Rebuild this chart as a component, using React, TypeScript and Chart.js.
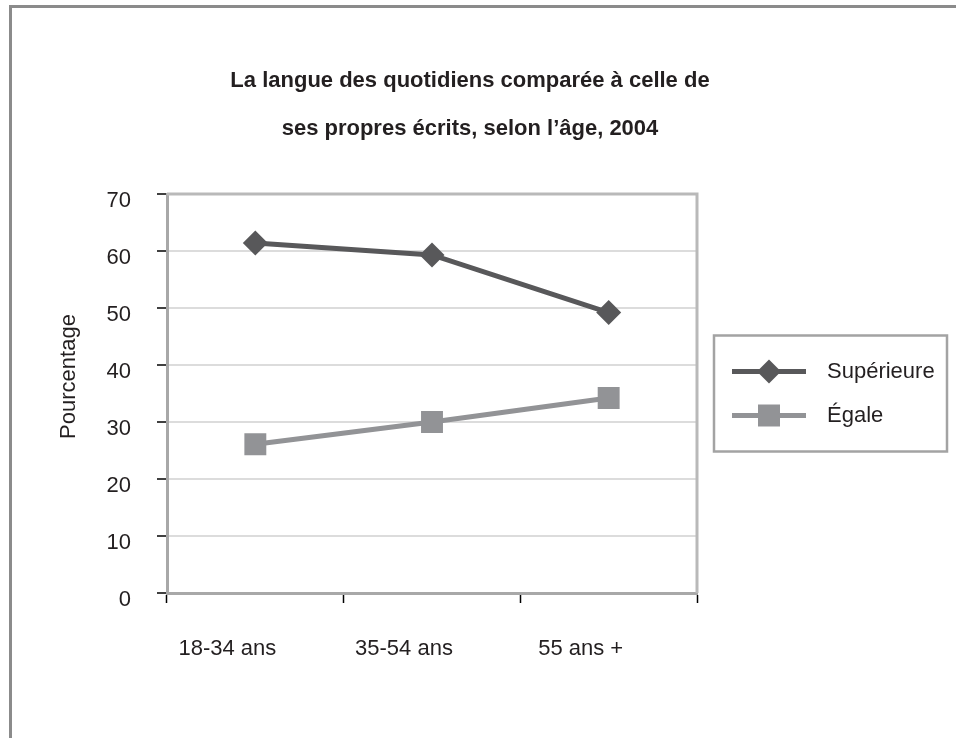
import React, { useEffect, useRef } from 'react';
import { Chart, registerables } from 'chart.js';

Chart.register(...registerables);

// ---- data ----
const TITLE_LINES = ['La langue des quotidiens comparée à celle de', 'ses propres écrits, selon l’âge, 2004'];
const CATEGORIES = ['18-34 ans', '35-54 ans', '55 ans +'];
const SERIES_LABELS = ['Supérieure', 'Égale'];
const SUPERIEURE = [61.4, 59.3, 49.2];
const EGALE = [26.1, 30.0, 34.2];
const Y_MIN = 0;
const Y_MAX = 70;
const Y_STEP = 10;
const Y_TITLE = 'Pourcentage';

export default function App() {
  const ref = useRef<HTMLCanvasElement | null>(null);

  useEffect(() => {
    if (!ref.current) return;
    const FAMILY = '"Liberation Sans", Arial, sans-serif';
    const SZ = 22;
    const TSZ = 22;
    const TEXT = '#231f20';
    const C1 = '#58585a';
    const C2 = '#929396';

    const framePlugin = {
      id: 'frameAndLegend',
      afterDraw(chart: any) {
        const ctx = chart.ctx;
        const ca = chart.chartArea;
        ctx.save();
        // top & right plot frame
        ctx.strokeStyle = '#b9b9b9';
        ctx.lineWidth = 3;
        ctx.beginPath();
        ctx.moveTo(ca.left, ca.top);
        ctx.lineTo(ca.right, ca.top);
        ctx.lineTo(ca.right, ca.bottom);
        ctx.stroke();

        // y axis title
        ctx.save();
        ctx.translate(69, (ca.top + ca.bottom) / 2 - 17);
        ctx.rotate(-Math.PI / 2);
        ctx.fillStyle = TEXT;
        ctx.font = `${SZ}px ${FAMILY}`;
        ctx.textAlign = 'center';
        ctx.textBaseline = 'middle';
        ctx.fillText(Y_TITLE, 0, 0);
        ctx.restore();

        // legend
        const boxL = ca.right + 17;
        const boxR = chart.width - 9;
        const cy = (ca.top + ca.bottom) / 2;
        const boxT = cy - 58;
        const boxB = cy + 58;
        ctx.strokeStyle = '#a3a3a3';
        ctx.lineWidth = 2.5;
        ctx.strokeRect(boxL, boxT, boxR - boxL, boxB - boxT);
        chart.data.datasets.forEach((ds: any, i: number) => {
          const y = cy - 22 + i * 44;
          ctx.strokeStyle = ds.borderColor;
          ctx.lineWidth = ds.borderWidth;
          ctx.beginPath();
          ctx.moveTo(boxL + 18, y);
          ctx.lineTo(boxL + 92, y);
          ctx.stroke();
          const mx = boxL + 55;
          ctx.fillStyle = ds.pointBackgroundColor;
          ctx.beginPath();
          if (ds.pointStyle === 'rectRot') {
            const r = 12;
            ctx.moveTo(mx - r, y);
            ctx.lineTo(mx, y - r);
            ctx.lineTo(mx + r, y);
            ctx.lineTo(mx, y + r);
            ctx.closePath();
          } else {
            const h = 11;
            ctx.rect(mx - h, y - h, 2 * h, 2 * h);
          }
          ctx.fill();
          ctx.fillStyle = TEXT;
          ctx.font = `${SZ}px ${FAMILY}`;
          ctx.textAlign = 'left';
          ctx.textBaseline = 'middle';
          ctx.fillText(ds.label, boxL + 113, y);
        });
        ctx.restore();
      },
    };

    const chart = new Chart(ref.current, {
      type: 'line',
      data: {
        labels: CATEGORIES,
        datasets: [
          {
            label: SERIES_LABELS[0],
            data: SUPERIEURE,
            borderColor: C1,
            backgroundColor: C1,
            borderWidth: 5,
            pointStyle: 'rectRot',
            pointRadius: 12.5,
            pointHoverRadius: 12.5,
            pointBackgroundColor: C1,
            pointBorderWidth: 0,
            tension: 0,
          },
          {
            label: SERIES_LABELS[1],
            data: EGALE,
            borderColor: C2,
            backgroundColor: C2,
            borderWidth: 5,
            pointStyle: 'rect',
            pointRadius: 15.5,
            pointHoverRadius: 15.5,
            pointBackgroundColor: C2,
            pointBorderWidth: 0,
            tension: 0,
          },
        ],
      },
      options: {
        responsive: false,
        animation: false,
        layout: { padding: { left: 0, right: 16, top: 0, bottom: 0 } },
        plugins: {
          legend: { display: false },
          tooltip: { enabled: false },
          title: {
            display: true,
            text: TITLE_LINES,
            color: TEXT,
            font: { family: FAMILY, size: TSZ, weight: 'bold', lineHeight: 48 / TSZ },
            padding: { top: 57, bottom: 41 },
          },
        },
        scales: {
          x: {
            type: 'category',
            offset: true,
            grid: {
              offset: true,
              drawOnChartArea: false,
              tickColor: '#000',
              tickLength: 10,
              tickWidth: 1.5,
            },
            border: { color: '#a8a8a8', width: 3 },
            ticks: {
              color: TEXT,
              font: { family: FAMILY, size: SZ },
              padding: 33,
              labelOffset: -28,
              maxRotation: 0,
            },
            afterFit: (s: any) => {
              s.height = 145;
            },
          },
          y: {
            min: Y_MIN,
            max: Y_MAX,
            ticks: {
              stepSize: Y_STEP,
              color: TEXT,
              font: { family: FAMILY, size: SZ },
              padding: 26,
              labelOffset: 7,
            },
            grid: {
              color: '#dcdcdc',
              lineWidth: 2,
              tickColor: '#000',
              tickLength: 10,
              tickWidth: 1.5,
            },
            border: { color: '#a8a8a8', width: 3 },
            title: { display: false },
            afterFit: (s: any) => {
              s.width = 167;
            },
          },
          legendSpace: {
            type: 'linear',
            position: 'right',
            display: true,
            grid: { display: false, drawTicks: false },
            border: { display: false },
            ticks: { display: false },
            afterFit: (s: any) => {
              s.width = 940 - 697;
            },
          },
        },
      },
      plugins: [framePlugin],
    } as any);

    return () => chart.destroy();
  }, []);

  return (
    <div style={{ position: 'fixed', left: 0, top: 0, width: 956, height: 738, background: '#fff', overflow: 'hidden' }}>
      <canvas ref={ref} width={956} height={738} style={{ display: 'block', width: 956, height: 738 }} />
      <div
        style={{
          position: 'absolute',
          left: 9,
          top: 5,
          right: -20,
          bottom: -20,
          borderLeft: '3px solid #8b8b8b',
          borderTop: '3px solid #8b8b8b',
          pointerEvents: 'none',
        }}
      />
    </div>
  );
}
